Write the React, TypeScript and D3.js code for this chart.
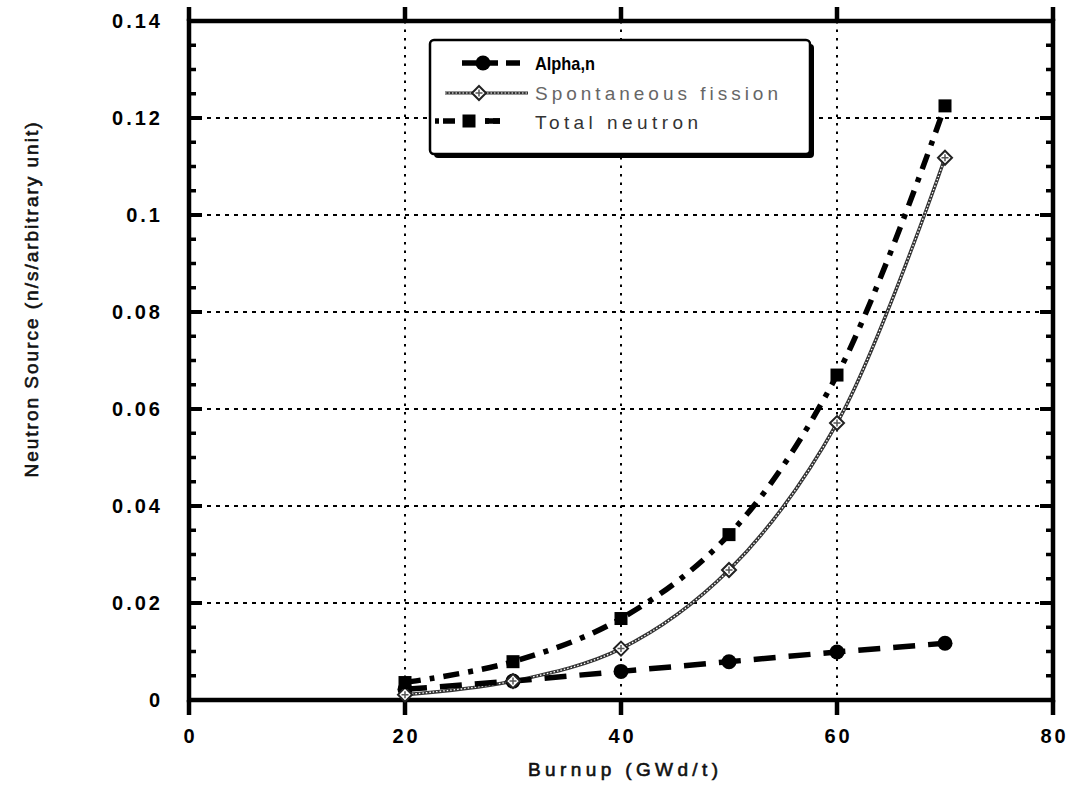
import React from "react";
import * as d3 from "d3";

const burnup = [20, 30, 40, 50, 60, 70];
const alphaN = [0.0022, 0.0039, 0.0059, 0.0079, 0.0099, 0.0117];
const spontaneousFission = [0.0011, 0.0039, 0.0106, 0.0268, 0.0571, 0.1118];
const totalNeutron = [0.0036, 0.0079, 0.0168, 0.0341, 0.0670, 0.1225];
const xTicks = [0, 20, 40, 60, 80];
const yTicks = [0, 0.02, 0.04, 0.06, 0.08, 0.1, 0.12, 0.14];
const yTickLabels = ["0", "0.02", "0.04", "0.06", "0.08", "0.1", "0.12", "0.14"];
const yMinorTicks = d3.range(0, 0.1401, 0.005);
const legendLabels = ["Alpha,n", "Spontaneous fission", "Total neutron"];

const FONT = "'Liberation Sans', Arial, Helvetica, sans-serif";

export default function App() {
  const W = 1071, H = 806;
  const x = d3.scaleLinear().domain([0, 80]).range([189, 1053]);
  const y = d3.scaleLinear().domain([0, 0.14]).range([700, 21]);
  const L = x(0), R = x(80), T = y(0.14), B = y(0);

  const pts = (vals: number[]) => burnup.map((b, i) => [x(b), y(vals[i])] as [number, number]);
  const straight = d3.line().curve(d3.curveLinear);
  const smooth = d3.line().curve(d3.curveCatmullRom.alpha(0.5));

  const diamond = (cx: number, cy: number, s: number) =>
    `M${cx},${cy - s}L${cx + s},${cy}L${cx},${cy + s}L${cx - s},${cy}Z`;

  const lw = 380, lx = 430, ly = 40, lh = 114;

  return (
    <svg width={W} height={H} style={{ position: "absolute", left: 0, top: 0, background: "#fff" }}>
      <rect x={0} y={0} width={W} height={H} fill="#fff" />
      {/* grid */}
      {yTicks.slice(1, -1).map((t) => (
        <line key={"gy" + t} x1={L} x2={R} y1={y(t)} y2={y(t)} stroke="#000" strokeWidth={2} strokeDasharray="4,5" />
      ))}
      {xTicks.slice(1, -1).map((t) => (
        <line key={"gx" + t} x1={x(t)} x2={x(t)} y1={T} y2={B} stroke="#000" strokeWidth={2} strokeDasharray="2.5,6" />
      ))}

      {/* minor y ticks */}
      {yMinorTicks.map((t, i) => (
        <g key={"mt" + i}>
          <line x1={L} x2={L + 7} y1={y(t)} y2={y(t)} stroke="#000" strokeWidth={3.5} />
          <line x1={R} x2={R - 7} y1={y(t)} y2={y(t)} stroke="#000" strokeWidth={3.5} />
        </g>
      ))}
      {yTicks.map((t) => (
        <g key={"Mt" + t}>
          <line x1={L} x2={L + 13} y1={y(t)} y2={y(t)} stroke="#000" strokeWidth={4} />
          <line x1={R} x2={R - 13} y1={y(t)} y2={y(t)} stroke="#000" strokeWidth={4} />
        </g>
      ))}
      {xTicks.map((t) => (
        <g key={"xt" + t}>
          <line x1={x(t)} x2={x(t)} y1={B} y2={B + 15} stroke="#000" strokeWidth={4.5} />
          <line x1={x(t)} x2={x(t)} y1={T} y2={T - 14} stroke="#000" strokeWidth={4.5} />
        </g>
      ))}

      {/* frame */}
      <rect x={L} y={T} width={R - L} height={B - T} fill="none" stroke="#000" strokeWidth={4.5} />

      {/* tick labels */}
      {yTicks.map((t, i) => (
        <text key={"yl" + t} x={163} y={y(t) + 7} textAnchor="end" fontFamily={FONT} fontWeight="bold"
          fontSize={20} letterSpacing={3} fill="#000">{yTickLabels[i]}</text>
      ))}
      {xTicks.map((t) => (
        <text key={"xl" + t} x={x(t) + 1.5} y={743} textAnchor="middle" fontFamily={FONT} fontWeight="bold"
          fontSize={20} letterSpacing={3} fill="#000">{t}</text>
      ))}

      {/* axis titles */}
      <text x={528} y={776} fontFamily={FONT} fontSize={19} stroke="#111" strokeWidth={0.6} textLength={190}
        lengthAdjust="spacing" fill="#111">Burnup (GWd/t)</text>
      <text transform={`translate(38,300) rotate(-90)`} textAnchor="middle" fontFamily={FONT} fontSize={19}
        stroke="#111" strokeWidth={0.6} textLength={355} lengthAdjust="spacing" fill="#111">Neutron Source (n/s/arbitrary unit)</text>

      {/* spontaneous fission */}
      <path d={smooth(pts(spontaneousFission)) || ""} fill="none" stroke="#333" strokeWidth={3.5} />
      <path d={smooth(pts(spontaneousFission)) || ""} fill="none" stroke="#fff" strokeWidth={1.3} strokeDasharray="1.5,2" />
      {/* alpha,n */}
      <path d={straight(pts(alphaN)) || ""} fill="none" stroke="#000" strokeWidth={5.5} strokeDasharray="22,13" />
      {/* total */}
      <path d={smooth(pts(totalNeutron)) || ""} fill="none" stroke="#000" strokeWidth={5.5}
        strokeDasharray="16,9,5,9" />

      {pts(alphaN).map(([cx, cy], i) => (
        <circle key={"ac" + i} cx={cx} cy={cy} r={7.5} fill="#000" />
      ))}
      {pts(spontaneousFission).map(([cx, cy], i) => (
        <g key={"sd" + i}>
          <path d={diamond(cx, cy, 7)} fill="#fff" stroke="#222" strokeWidth={2} />
          <path d={`M${cx - 3.5},${cy}L${cx + 3.5},${cy}M${cx},${cy - 3.5}L${cx},${cy + 3.5}`} stroke="#555" strokeWidth={1.5} />
        </g>
      ))}
      {pts(totalNeutron).map(([cx, cy], i) => (
        <rect key={"ts" + i} x={cx - 6.5} y={cy - 6.5} width={13} height={13} fill="#000" />
      ))}

      {/* legend */}
      <rect x={lx + 4} y={ly + 4} width={lw} height={lh} rx={4} fill="#000" />
      <rect x={lx} y={ly} width={lw} height={lh} rx={4} fill="#fff" stroke="#000" strokeWidth={2.5} />
      {/* alpha sample */}
      <line x1={462} x2={528} y1={63} y2={63} stroke="#000" strokeWidth={5.5} strokeDasharray="14,8" />
      <circle cx={483} cy={63} r={7.5} fill="#000" />
      {/* SF sample */}
      <line x1={445} x2={528} y1={93} y2={93} stroke="#333" strokeWidth={3} />
      <line x1={445} x2={528} y1={93} y2={93} stroke="#fff" strokeWidth={1.1} strokeDasharray="1.5,2" />
      <path d={diamond(479, 93, 7)} fill="#fff" stroke="#222" strokeWidth={2} />
      <path d="M475.5,93L482.5,93M479,89.5L479,96.5" stroke="#555" strokeWidth={1.5} />
      {/* total sample */}
      <line x1={435} x2={500} y1={121} y2={121} stroke="#000" strokeWidth={5.5} strokeDasharray="4,4,12,30" />
      <rect x={462.5} y={114.5} width={13} height={13} fill="#000" />
      <line x1={485} x2={500} y1={121} y2={121} stroke="#000" strokeWidth={5.5} />

      <text x={535} y={70} fontFamily={FONT} fontWeight="bold" fontSize={19} textLength={60}
        lengthAdjust="spacingAndGlyphs" fill="#000">{legendLabels[0]}</text>
      <text x={535} y={100} fontFamily={FONT} fontSize={19} textLength={243}
        lengthAdjust="spacing" fill="#666">{legendLabels[1]}</text>
      <text x={535} y={129} fontFamily={FONT} fontSize={19} textLength={163}
        lengthAdjust="spacing" fill="#333">{legendLabels[2]}</text>
    </svg>
  );
}
